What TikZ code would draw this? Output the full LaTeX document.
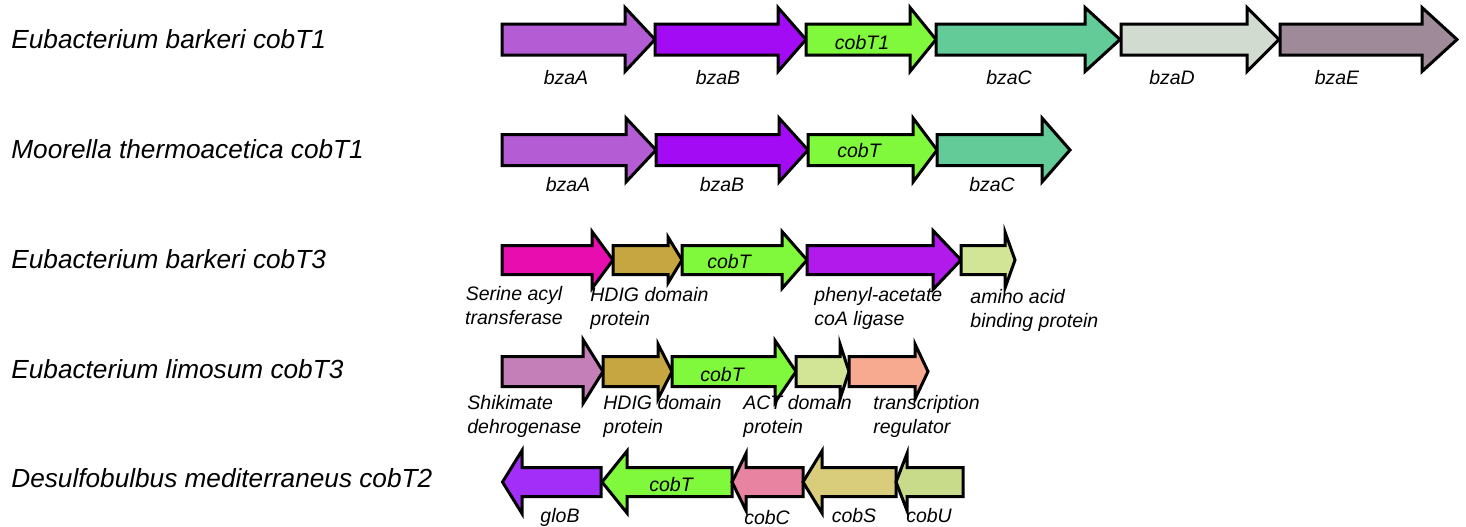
\documentclass[tikz,border=0pt]{standalone}
\usepackage{fontspec}
\setmainfont{Liberation Sans}
\usetikzlibrary{arrows,shapes}
\tikzset{>=latex}

\definecolor{cbzaA}{HTML}{B35CD4}
\definecolor{cbzaB}{HTML}{A30BF4}
\definecolor{ccobT}{HTML}{80F83C}
\definecolor{cbzaC}{HTML}{62CB98}
\definecolor{cbzaD}{HTML}{D2DBD0}
\definecolor{cbzaE}{HTML}{9E8A98}
\definecolor{cserine}{HTML}{E70DAF}
\definecolor{chdig}{HTML}{C6A640}
\definecolor{cphenyl}{HTML}{B11AEB}
\definecolor{camino}{HTML}{D2E495}
\definecolor{cshiki}{HTML}{C47FB9}
\definecolor{ctrans}{HTML}{F7AA90}
\definecolor{cglob}{HTML}{A22EF7}
\definecolor{ccobC}{HTML}{E884A2}
\definecolor{ccobS}{HTML}{D9CC7A}
\definecolor{ccobU}{HTML}{C8DB8B}

\tikzset{
  gene/.style={draw=black, line width=1.5pt, line join=miter, miter limit=10},
  genelabel/.style={inner sep=0pt, anchor=base, font=\fontsize{9.75}{12}\selectfont\itshape},
  genenote/.style={genelabel, align=left, anchor=base west},
  species/.style={inner sep=0pt, anchor=base west, font=\fontsize{13.1}{16}\selectfont\itshape}
}

\begin{document}
\begin{tikzpicture}[x=0.5pt, y=-0.5pt]
    \useasboundingbox (0,0) rectangle (1466,526);

    % Eubacterium barkeri cobT1
    \node[species] (sp1) at (11,48.5) {Eubacterium barkeri cobT1};
    \draw[gene, fill=cbzaA] (502,24) -- (625,24) -- (625,7.5) -- (655,39.5) -- (625,71.5) -- (625,55) -- (502,55) -- cycle;
    \draw[gene, fill=cbzaB] (655,24) -- (778,24) -- (778,7.5) -- (806,39.5) -- (778,71.5) -- (778,55) -- (655,55) -- cycle;
    \draw[gene, fill=ccobT] (806,24) -- (910,24) -- (910,7.5) -- (936,39.5) -- (910,71.5) -- (910,55) -- (806,55) -- cycle;
    \draw[gene, fill=cbzaC] (936,24) -- (1085,24) -- (1085,7.5) -- (1120,39.5) -- (1085,71.5) -- (1085,55) -- (936,55) -- cycle;
    \draw[gene, fill=cbzaD] (1121,24) -- (1247,24) -- (1247,7.5) -- (1279,39.5) -- (1247,71.5) -- (1247,55) -- (1121,55) -- cycle;
    \draw[gene, fill=cbzaE] (1280,24) -- (1422,24) -- (1422,7.5) -- (1457,39.5) -- (1422,71.5) -- (1422,55) -- (1280,55) -- cycle;
    \node[genelabel] (a1) at (566,84.5) {bzaA};
    \node[genelabel] (b1) at (718,84.5) {bzaB};
    \node[genelabel] (t1) at (862,49.5) {cobT1};
    \node[genelabel] (c1) at (1009,84.5) {bzaC};
    \node[genelabel] (d1) at (1172,84.5) {bzaD};
    \node[genelabel] (e1) at (1337,84.5) {bzaE};

    % Moorella thermoacetica cobT1
    \node[species] (sp2) at (11,158.5) {Moorella thermoacetica cobT1};
    \draw[gene, fill=cbzaA] (502,134.5) -- (626,134.5) -- (626,118) -- (656,150) -- (626,182) -- (626,165.5) -- (502,165.5) -- cycle;
    \draw[gene, fill=cbzaB] (656,134.5) -- (779,134.5) -- (779,118) -- (808,150) -- (779,182) -- (779,165.5) -- (656,165.5) -- cycle;
    \draw[gene, fill=ccobT] (808,134.5) -- (913,134.5) -- (913,118) -- (937,150) -- (913,182) -- (913,165.5) -- (808,165.5) -- cycle;
    \draw[gene, fill=cbzaC] (937,134.5) -- (1042,134.5) -- (1042,118) -- (1070,150) -- (1042,182) -- (1042,165.5) -- (937,165.5) -- cycle;
    \node[genelabel] (a2) at (568,191) {bzaA};
    \node[genelabel] (b2) at (722,191) {bzaB};
    \node[genelabel] (t2) at (859,157.5) {cobT};
    \node[genelabel] (c2) at (992,191) {bzaC};

    % Eubacterium barkeri cobT3
    \node[species] (sp3) at (11,268.5) {Eubacterium barkeri cobT3};
    \draw[gene, fill=cserine] (502,245.5) -- (592,245.5) -- (592,231.5) -- (613,260) -- (592,288.5) -- (592,274.5) -- (502,274.5) -- cycle;
    \draw[gene, fill=chdig] (613,245.5) -- (668,245.5) -- (668,237) -- (682,260) -- (668,283) -- (668,274.5) -- (613,274.5) -- cycle;
    \draw[gene, fill=ccobT] (682,245.5) -- (782,245.5) -- (782,231.5) -- (807,260) -- (782,288.5) -- (782,274.5) -- (682,274.5) -- cycle;
    \draw[gene, fill=cphenyl] (807,245.5) -- (933,245.5) -- (933,230.5) -- (961,260) -- (933,289.5) -- (933,274.5) -- (807,274.5) -- cycle;
    \draw[gene, fill=camino] (961,245.5) -- (1005,245.5) -- (1005,232) -- (1015,260) -- (1005,288) -- (1005,274.5) -- (961,274.5) -- cycle;
    \node[genelabel, align=center] (ser3) at (514,324) {Serine acyl\\transferase};
    \node[genenote] (hdig3) at (590,325) {HDIG domain\\protein};
    \node[genelabel] (t3) at (729,268.5) {cobT};
    \node[genenote] (phe3) at (814,325) {phenyl-acetate\\coA ligase};
    \node[genenote] (ami3) at (970,327) {amino acid\\binding protein};

    % Eubacterium limosum cobT3
    \node[species] (sp4) at (11,378.5) {Eubacterium limosum cobT3};
    \draw[gene, fill=cshiki] (502,356.5) -- (583,356.5) -- (583,339.5) -- (603,371.5) -- (583,403.5) -- (583,386.5) -- (502,386.5) -- cycle;
    \draw[gene, fill=chdig] (603,356.5) -- (658,356.5) -- (658,344) -- (672,371.5) -- (658,399) -- (658,386.5) -- (603,386.5) -- cycle;
    \draw[gene, fill=ccobT] (672,356.5) -- (775,356.5) -- (775,340.5) -- (796,371.5) -- (775,402.5) -- (775,386.5) -- (672,386.5) -- cycle;
    \draw[gene, fill=camino] (796,356.5) -- (840,356.5) -- (840,344) -- (849,371.5) -- (840,399) -- (840,386.5) -- (796,386.5) -- cycle;
    \draw[gene, fill=ctrans] (849,356.5) -- (915,356.5) -- (915,344) -- (928,371.5) -- (915,399) -- (915,386.5) -- (849,386.5) -- cycle;
    \node[genenote] (shi4) at (467,433) {Shikimate\\dehrogenase};
    \node[genenote] (hdig4) at (603,433) {HDIG domain\\protein};
    \node[genelabel] (t4) at (722,381) {cobT};
    \node[genenote] (act4) at (743,433) {ACT domain\\protein};
    \node[genenote] (tra4) at (873,433) {transcription\\regulator};

    % Desulfobulbus mediterraneus cobT2
    \node[species] (sp5) at (11,487) {Desulfobulbus mediterraneus cobT2};
    \draw[gene, fill=cglob] (601,467.5) -- (522,467.5) -- (522,450.5) -- (502.5,482) -- (522,513.5) -- (522,496.5) -- (601,496.5) -- cycle;
    \draw[gene, fill=ccobT] (732,467.5) -- (627,467.5) -- (627,451) -- (602,482) -- (627,513) -- (627,496.5) -- (732,496.5) -- cycle;
    \draw[gene, fill=ccobC] (803,467.5) -- (746,467.5) -- (746,453.5) -- (732,482) -- (746,510.5) -- (746,496.5) -- (803,496.5) -- cycle;
    \draw[gene, fill=ccobS] (896,467.5) -- (822,467.5) -- (822,451) -- (803,482) -- (822,513) -- (822,496.5) -- (896,496.5) -- cycle;
    \draw[gene, fill=ccobU] (963,467.5) -- (907,467.5) -- (907,453.5) -- (896,482) -- (907,510.5) -- (907,496.5) -- (963,496.5) -- cycle;
    \node[genelabel] (g5) at (560,522) {gloB};
    \node[genelabel] (t5) at (671,491.5) {cobT};
    \node[genelabel] (c5) at (767,524) {cobC};
    \node[genelabel] (s5) at (854,522) {cobS};
    \node[genelabel] (u5) at (929,522) {cobU};
\end{tikzpicture}
\end{document}
